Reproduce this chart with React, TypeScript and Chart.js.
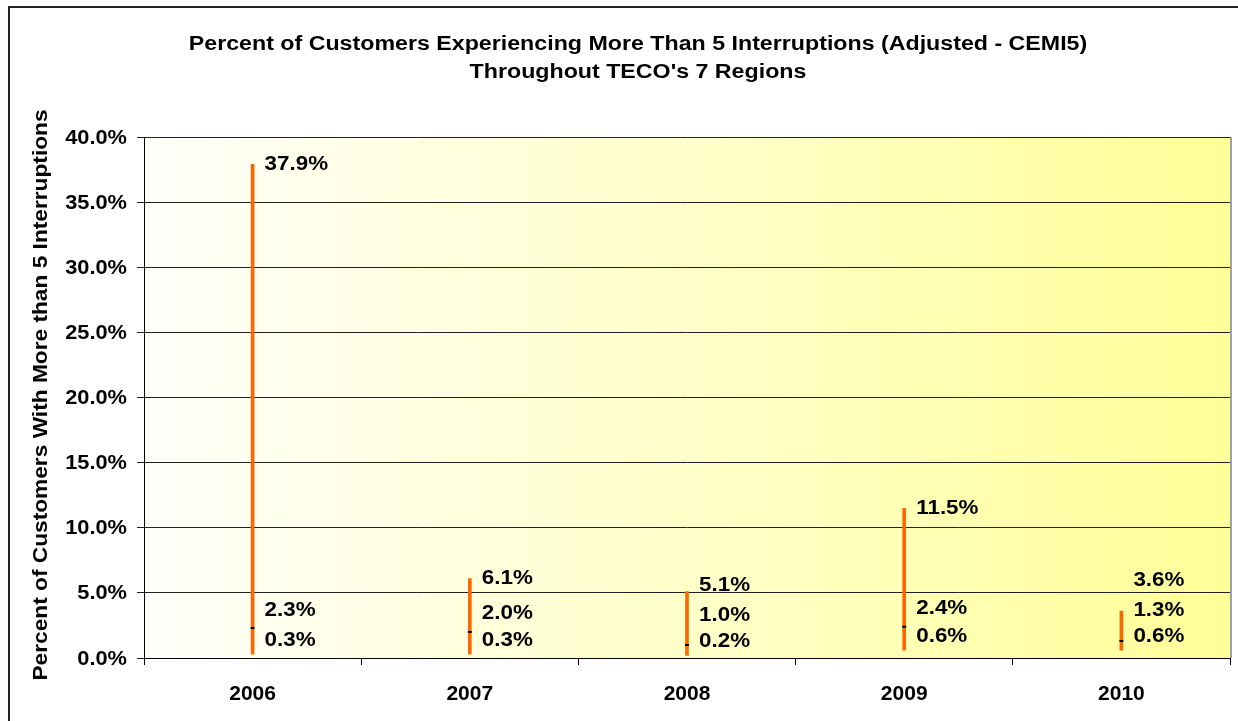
import React, { useEffect, useRef } from 'react';
import { Chart, registerables } from 'chart.js';

Chart.register(...registerables);

const years = ['2006', '2007', '2008', '2009', '2010'];
const highValues = [37.9, 6.1, 5.1, 11.5, 3.6];
const avgValues = [2.3, 2.0, 1.0, 2.4, 1.3];
const lowValues = [0.3, 0.3, 0.2, 0.6, 0.6];
const yMin = 0;
const yMax = 40;
const yStep = 5;

const titleLines = [
  'Percent of Customers Experiencing More Than 5 Interruptions (Adjusted - CEMI5)',
  "Throughout TECO's 7 Regions",
];
const yAxisTitle = 'Percent of Customers With More than 5 Interruptions';

const FONT = '"Liberation Sans", Arial, Helvetica, sans-serif';

const fmt = (v: number) => v.toFixed(1) + '%';

function stretchedText(ctx: any, text: string, x: number, y: number, align: string, sx: number) {
  ctx.save();
  ctx.translate(x, y);
  ctx.scale(sx, 1);
  ctx.textAlign = align;
  ctx.fillText(text, 0, 0);
  ctx.restore();
}

const decorPlugin = {
  id: 'decor',
  beforeDraw(chart: any) {
    const { ctx, chartArea: a, width, height } = chart;
    ctx.save();
    ctx.fillStyle = '#ffffff';
    ctx.fillRect(0, 0, width, height);
    const g = ctx.createLinearGradient(a.left, 0, a.right, 0);
    g.addColorStop(0, '#FFFFFA');
    g.addColorStop(1, '#FFFF99');
    ctx.fillStyle = g;
    ctx.fillRect(a.left, a.top, a.right - a.left, a.bottom - a.top);
    // outer frame
    ctx.strokeStyle = '#222222';
    ctx.lineWidth = 2;
    ctx.strokeRect(9, 7, width + 20, height + 20);
    ctx.restore();
  },
  afterDatasetsDraw(chart: any) {
    const { ctx } = chart;
    const xs = chart.scales.x;
    const ys = chart.scales.y;
    ctx.save();
    ctx.fillStyle = '#000000';
    ctx.font = `bold 20px ${FONT}`;
    ctx.textBaseline = 'middle';
    for (let i = 0; i < years.length; i++) {
      const x = xs.getPixelForValue(i) + 12;
      const yLow = ys.getPixelForValue(lowValues[i]) - 14;
      const yAvg = Math.min(ys.getPixelForValue(avgValues[i]) - 18, yLow - 26);
      const yHigh = Math.min(ys.getPixelForValue(highValues[i]), yAvg - 30);
      stretchedText(ctx, fmt(lowValues[i]), x, yLow, 'left', 1.12);
      stretchedText(ctx, fmt(avgValues[i]), x, yAvg, 'left', 1.12);
      stretchedText(ctx, fmt(highValues[i]), x, yHigh, 'left', 1.12);
    }
    ctx.restore();
  },
  afterDraw(chart: any) {
    const { ctx, chartArea: a } = chart;
    const ys = chart.scales.y;
    ctx.save();
    // plot right border
    ctx.strokeStyle = '#A0A0A0';
    ctx.lineWidth = 2;
    ctx.beginPath();
    ctx.moveTo(a.right + 1, a.top);
    ctx.lineTo(a.right + 1, a.bottom);
    ctx.stroke();
    ctx.fillStyle = '#000000';
    ctx.textBaseline = 'middle';
    // y tick labels
    ctx.font = `bold 20px ${FONT}`;
    for (const t of ys.ticks) {
      stretchedText(ctx, fmt(t.value), 127, ys.getPixelForValue(t.value) + 1, 'right', 1.09);
    }
    // title
    ctx.font = `bold 20px ${FONT}`;
    stretchedText(ctx, titleLines[0], 638, 44, 'center', 1.16);
    stretchedText(ctx, titleLines[1], 638, 72, 'center', 1.16);
    // y axis title
    ctx.font = `bold 20px ${FONT}`;
    ctx.translate(41, 395);
    ctx.rotate(-Math.PI / 2);
    stretchedText(ctx, yAxisTitle, 0, 0, 'center', 1.135);
    ctx.restore();
  },
};

export default function App() {
  const ref = useRef<HTMLCanvasElement | null>(null);
  useEffect(() => {
    if (!ref.current) return;
    const chart = new Chart(ref.current, {
      data: {
        labels: years,
        datasets: [
          {
            type: 'line',
            label: 'Average',
            data: avgValues,
            showLine: false,
            pointStyle: 'line',
            pointRadius: 2,
            pointBorderWidth: 2,
            pointBorderColor: '#000000',
            pointBackgroundColor: '#000000',
            order: 0,
          } as any,
          {
            type: 'bar',
            label: 'Range',
            data: years.map((_, i) => [lowValues[i], highValues[i]]),
            backgroundColor: '#FF6600',
            borderWidth: 0,
            barThickness: 3,
            order: 1,
          } as any,
        ],
      },
      options: {
        animation: false,
        responsive: false,
        maintainAspectRatio: false,
        events: [],
        layout: { padding: { top: 137, right: 8, left: 0, bottom: 0 } },
        plugins: {
          legend: { display: false },
          tooltip: { enabled: false },
          title: { display: false },
        },
        scales: {
          x: {
            type: 'category',
            offset: true,
            grid: {
              offset: true,
              drawOnChartArea: false,
              drawTicks: true,
              tickLength: 7,
              color: '#000000',
            },
            border: { display: true, color: '#000000', width: 1 },
            ticks: {
              color: '#000000',
              font: { family: FONT, size: 21, weight: 'bold' },
              padding: 17,
              maxRotation: 0,
            },
            afterFit(scale: any) {
              scale.height = 721 - 658;
            },
          },
          y: {
            min: yMin,
            max: yMax,
            grid: {
              color: '#222222',
              tickLength: 7,
              drawTicks: true,
            },
            border: { display: true, color: '#000000', width: 1 },
            ticks: {
              stepSize: yStep,
              color: 'rgba(0,0,0,0)',
              padding: 10,
              font: { family: FONT, size: 20, weight: 'bold' },
              callback: (v: any) => fmt(Number(v)),
            },
            afterFit(scale: any) {
              scale.width = 144;
            },
          },
        },
      } as any,
      plugins: [decorPlugin],
    });
    return () => chart.destroy();
  }, []);
  return (
    <div style={{ position: 'fixed', left: 0, top: 0, width: 1238, height: 721 }}>
      <canvas ref={ref} width={1238} height={721} style={{ display: 'block', width: 1238, height: 721 }} />
    </div>
  );
}
